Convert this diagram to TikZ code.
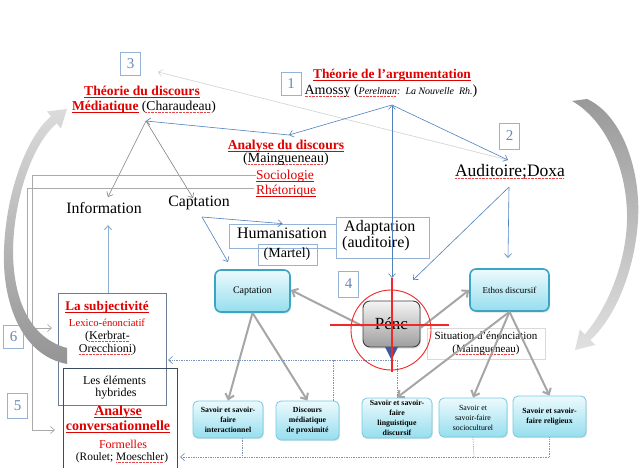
\documentclass[tikz,border=0pt]{standalone}
\usepackage{fontspec}
\setmainfont{Liberation Serif}
\usetikzlibrary{arrows.meta,shadows}
\definecolor{tred}{RGB}{225,0,0}
\definecolor{lnblue}{RGB}{79,129,189}
\definecolor{nbbord}{RGB}{149,179,215}
\definecolor{nbtext}{RGB}{105,135,185}
\definecolor{cyborder}{RGB}{60,165,195}
\definecolor{cysmallb}{RGB}{120,200,222}
\definecolor{cytop}{RGB}{236,250,253}
\definecolor{cybot}{RGB}{150,222,238}
\definecolor{dotc}{RGB}{120,150,185}
\definecolor{gline}{RGB}{170,170,170}
\definecolor{squcol}{RGB}{230,70,70}
\definecolor{subjc}{RGB}{110,125,150}
\definecolor{elemc}{RGB}{60,75,95}
\definecolor{lbarrow}{RGB}{140,175,210}
\definecolor{tricol}{RGB}{60,90,160}
\definecolor{crossred}{RGB}{240,40,40}
\newcommand\fsz[1]{\fontsize{#1}{#1}\selectfont}
\newcommand\squ[1]{\leavevmode\setbox0=\hbox{#1}\rlap{\raisebox{-1.8pt}[0pt][0pt]{\color{squcol}\hbox to\wd0{\leaders\hbox{\rule{0.8pt}{0.45pt}\kern0.6pt}\hfill}}}\box0\relax}
\newcommand\uln[1]{\leavevmode\setbox0=\hbox{#1}\rlap{\raisebox{-1.7pt}[0pt][0pt]{\rule{\wd0}{0.6pt}}}\box0\relax}
\begin{document}
\begin{tikzpicture}[x=1pt,y=-1pt,
  txt/.style={inner sep=0pt,text height=.7em,text depth=.2em},
  numbox/.style={draw=nbbord,line width=0.8pt,minimum width=20pt,minimum height=23pt,inner sep=0pt,text=nbtext,font=\fsz{15}},
  plainbox/.style={draw=nbbord,line width=0.7pt,inner sep=0pt},
  cybox/.style={draw=cyborder,line width=1.6pt,rounded corners=6pt,top color=cytop,bottom color=cybot,
     drop shadow={opacity=0.25,shadow xshift=1pt,shadow yshift=-1.5pt},inner sep=0pt,align=center},
  cysmall/.style={draw=cysmallb,line width=0.8pt,rounded corners=5pt,top color=cytop,bottom color=cybot,
     drop shadow={opacity=0.2,shadow xshift=1pt,shadow yshift=-1.2pt},inner sep=0pt,align=center,
     font=\fontsize{7.8}{10}\selectfont\bfseries},
  bl/.style={draw=lnblue,line width=0.6pt},
  barb/.style={-{Straight Barb[length=4pt,width=7pt]}},
  dbarb/.style={{Straight Barb[length=4pt,width=7pt]}-{Straight Barb[length=4pt,width=7pt]}},
  gthin/.style={draw=black!50,line width=0.6pt},
  gl/.style={draw=gline,line width=0.7pt},
  gthick/.style={draw=black!35,line width=2pt,-{Straight Barb[length=5pt,width=9pt]}},
  dotline/.style={draw=dotc,line width=0.7pt,densely dotted},
  redmark/.style={draw=crossred,line width=1.3pt},
]
\useasboundingbox (0,0) rectangle (640,468);
\fill[white] (0,0) rectangle (640,468);

% ---------- number boxes
\node[numbox] (n3) at (130.5,63.5) {3};
\node[numbox] (n1) at (291,83.5) {1};
\node[numbox,minimum height=26pt] (n2) at (509.5,136) {2};
\node[numbox,minimum height=26pt] (n4) at (348.5,284) {4};
\node[numbox] (n6) at (13.5,336.5) {6};
\node[numbox,minimum height=25pt] (n5) at (17.5,405.5) {5};

% ---------- titles
\node[txt,font=\fsz{13.6}\bfseries,text=tred] (tdm1) at (142,93) {\uln{Théorie du discours}};
\node[txt,font=\fsz{13.6}] (tdm2) at (144,108) {\textcolor{tred}{\bfseries\uln{Médiatique}} (\squ{Charaudeau})};
\node[txt,font=\fsz{13.4}\bfseries,text=tred] (tda1) at (392,76) {\uln{Théorie de l’argumentation}};
\node[txt,font=\fsz{14}] (tda2) at (391,92) {\squ{Amossy} ({\fsz{10}\itshape \squ{Perelman}:\ \ La Nouvelle\ \ Rh.})};
\node[txt,font=\fsz{13.6}\bfseries,text=tred] (ad1) at (286,147) {\uln{Analyse du discours}};
\node[txt,font=\fsz{14}] (ad2) at (286,160) {(\squ{Maingueneau})};
\node[txt,font=\fsz{13.5},text=tred] (soc) at (285,177) {\uln{Sociologie}};
\node[txt,font=\fsz{13.5},text=tred] (rhe) at (286,192) {\uln{Rhétorique}};

\node[txt,font=\fsz{15.8}] (info) at (104,211) {Information};
\node[txt,font=\fsz{15.8}] (capt) at (199,204) {Captation};
\node[plainbox,minimum width=107pt,minimum height=24pt] (hum) at (282.5,236) {};
\node[txt,font=\fsz{16}] (humt) at (282,236) {Humanisation};
\node[plainbox,minimum width=59pt,minimum height=21pt] (mar) at (287.5,254.5) {};
\node[txt,font=\fsz{14}] (mart) at (287,255) {(Martel)};
\node[plainbox,minimum width=93pt,minimum height=41pt] (adapt) at (382.5,237.5) {};
\node[txt,font=\fsz{16},anchor=west] (adt1) at (344,229) {Adaptation};
\node[txt,font=\fsz{16},anchor=west] (adt2) at (342,245) {(auditoire)};
\node[txt,font=\fsz{17.5}] (aud) at (510,174) {\squ{Auditoire;Doxa}};

% ---------- central boxes
\node[cybox,minimum width=75pt,minimum height=42pt,font=\fsz{10}] (captbox) at (252.5,291) {Captation};
\node[cybox,minimum width=79pt,minimum height=42pt,font=\fsz{9}] (ethos) at (509.5,290) {Ethos discursif};
\node[draw=black!75,line width=0.9pt,rounded corners=7pt,top color=black!4,bottom color=black!38,
  minimum width=57pt,minimum height=46pt,inner sep=0pt,font=\fsz{17},
  drop shadow={opacity=0.25,shadow xshift=1pt,shadow yshift=-1.5pt}] (penc) at (391.5,324) {Pénc};
\node[draw=black!15,line width=0.6pt,minimum width=118pt,minimum height=31pt,align=center,
  font=\fontsize{11}{13}\selectfont,inner sep=0pt] (sit) at (486,343.5) {Situation d’énonciation\\(\squ{Maingueneau})};

% ---------- bottom boxes
\node[cysmall,minimum width=70pt,minimum height=37pt] (int) at (228,419.5) {Savoir et savoir-\\faire\\interactionnel};
\node[cysmall,minimum width=63pt,minimum height=39pt] (prox) at (307.5,420.5) {Discours\\médiatique\\de proximité};
\node[cysmall,minimum width=70pt,minimum height=40pt] (ling) at (397,418) {Savoir et savoir-\\faire\\linguistique\\discursif};
\node[cysmall,minimum width=68pt,minimum height=39pt,font=\fontsize{7.8}{10}\selectfont] (socio) at (473,417.5) {Savoir et\\savoir-faire\\socioculturel};
\node[cysmall,minimum width=73pt,minimum height=41pt] (relig) at (549.5,416.5) {Savoir et savoir-\\faire religieux};

% ---------- left boxes
\node[draw=subjc,line width=0.7pt,minimum width=108pt,minimum height=112pt,inner sep=0pt] (subj) at (112,349) {};
\node[txt,font=\fsz{13.2}\bfseries,text=tred] (sub1) at (107,308) {\uln{La subjectivité}};
\node[txt,font=\fsz{10.7},text=tred] (sub2) at (107,324) {Lexico-énonciatif};
\node[txt,font=\fsz{12}] (sub3) at (107.5,337) {(\squ{Kerbrat-}};
\node[txt,font=\fsz{12}] (sub4) at (107.5,350) {\squ{Orecchioni})};
\node[draw=elemc,line width=0.7pt,minimum width=114pt,minimum height=106pt,inner sep=0pt] (elem) at (120,421) {};
\node[txt,font=\fsz{12}] (el1) at (114.5,382) {Les éléments};
\node[txt,font=\fsz{12}] (el2) at (116,394) {hybrides};
\node[txt,font=\fsz{14}\bfseries,text=tred] (ac1) at (118,413) {\uln{Analyse}};
\node[txt,font=\fsz{14}\bfseries,text=tred] (ac2) at (118,428) {\uln{conversationnelle}};
\node[txt,font=\fsz{12},text=tred] (ac3) at (123,446) {Formelles};
\node[txt,font=\fsz{11.4}] (ac4) at (122,458) {(Roulet; \squ{Moeschler})};

% ---------- coordinates
\coordinate (amb) at (392,105);
\coordinate (adr) at (289,135);
\coordinate (cha) at (146,121);
\coordinate (audin) at (508,160);
\coordinate (aub) at (509,187);
\coordinate (pencT) at (392,278);
\coordinate (pencNE) at (413,280);
\coordinate (ethin) at (508,258);
\coordinate (captb) at (202,217);
\coordinate (captin) at (228,262);
\coordinate (infoin) at (108,197);
\coordinate (captin2) at (193,198);
\coordinate (subtop) at (108,293);
\coordinate (infobot) at (108,225);
\coordinate (n3in) at (158,72);
\coordinate (socl) at (256,175);
\coordinate (rhel) at (254,188);
\coordinate (lc1) at (32,430);
\coordinate (lc2) at (27,328);
\coordinate (acin) at (55,430);
\coordinate (subin) at (52,328);
\coordinate (subjdot) at (168,360);
\coordinate (proxdot) at (333,401);
\coordinate (proxdotT) at (333,360);
\coordinate (elemdot) at (180,457);
\coordinate (intdot) at (242,438);
\coordinate (intdotB) at (242,457);
\coordinate (sociodotB) at (474,457);
\coordinate (crossW) at (330,325);
\coordinate (crossE) at (449,325);
\coordinate (crossN) at (392,278);
\coordinate (crossS) at (392,372);

% ---------- connectors
\draw[draw=black!18,line width=0.6pt,barb] (audin) -- (n3in);
\draw[bl,barb] (amb) -- (adr);
\draw[bl,barb] (amb) -- (audin);
\draw[bl,dbarb] (amb) -- (pencT);
\draw[bl,barb] (adr) -- (cha);
\draw[gthin,barb] (cha) -- (infoin);
\draw[gthin,barb] (cha) -- (captin2);
\draw[bl,barb] (captb) -- (hum.north);
\draw[bl,barb] (captb) -- (captin);
\draw[bl,barb] (aub) -- (pencNE);
\draw[bl,barb] (aub) -- (ethin);
\draw[draw=lbarrow,line width=1pt,barb] (subtop) -- (infobot);
\draw[gl,barb] (socl) -| (lc1) -- (acin);
\draw[gl,barb] (rhel) -| (lc2) -- (subin);

\draw[gthick] ([yshift=-2pt]penc.west) -- ([yshift=1pt]captbox.east);
\draw[gthick] ([yshift=-4pt]penc.east) -- (ethos.west);
\draw[gthick] (captbox.south) -- (int.north);
\draw[gthick] (captbox.south) -- (prox.north);
\draw[gthick] (ethos.south) -- (ling.north);
\draw[gthick] (ethos.south) -- (socio.north);
\draw[gthick] (ethos.south) -- (relig.north);

\draw[dotline,barb] (ling.north) |- (subjdot);
\draw[dotline] (proxdot) -- (proxdotT);
\draw[dotline,barb] (relig.south) |- (elemdot);
\draw[dotline] (intdot) -- (intdotB);
\draw[dotline] (socio.south) -- (sociodotB);

% ---------- target marks
\draw[redmark,line width=0.9pt] (391,330) circle[radius=40];
\fill[tricol] (385,347) -- (398,347) -- (391.5,360) -- cycle;
\draw[redmark] (crossW) -- (crossE);
\draw[redmark] (crossN) -- (crossS);

% ---------- big curved arrows
\shade[top color=black!14,bottom color=black!42]
 (67,364) .. controls (20,355) and (2,300) .. (4,250) .. controls (6,190) and (28,135) .. (51,116.4)
 -- (46.9,111.4) -- (67,109) -- (60.9,128.4) -- (56.8,123.4)
 .. controls (34,142) and (14,195) .. (13,250) .. controls (13,300) and (30,338) .. (67,348) -- cycle;
\shade[top color=black!40,bottom color=black!12]
 (572,101) -- (587,99) .. controls (622,115) and (641,170) .. (638,220) .. controls (635,270) and (615,318) .. (590.4,340.0)
 -- (595.4,344.9) -- (575,350) -- (579.8,329.5) -- (584.8,334.4)
 .. controls (606,310) and (626,265) .. (627,220) .. controls (628,170) and (606,120) .. (572,101) -- cycle;
\end{tikzpicture}
\end{document}
